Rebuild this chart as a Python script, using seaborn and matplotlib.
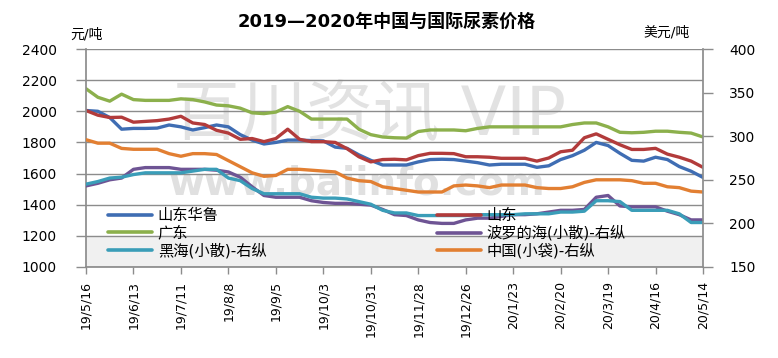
import pandas as pd
import numpy as np
import matplotlib
matplotlib.use('Agg')
import matplotlib.pyplot as plt
from matplotlib.lines import Line2D
import seaborn as sns

# weekly readings, 2019-05-16 .. 2020-05-14
dates = pd.date_range('2019-05-16', periods=53, freq='7D')

# left axis, yuan/ton
shandong_hualu = [2005, 2000, 1960, 1885, 1890, 1890, 1892, 1912, 1900, 1880,
                  1895, 1912, 1900, 1850, 1815, 1790, 1800, 1815, 1815, 1812,
                  1810, 1770, 1762, 1720, 1685, 1655, 1655, 1655, 1675, 1690,
                  1692, 1690, 1680, 1670, 1655, 1660, 1660, 1660, 1640, 1650,
                  1690, 1715, 1750, 1800, 1780, 1730, 1685, 1680, 1705, 1690,
                  1645, 1615, 1575]
shandong = [2005, 1975, 1960, 1962, 1930, 1935, 1940, 1950, 1968, 1925,
            1915, 1878, 1860, 1820, 1825, 1805, 1825, 1885, 1820, 1805,
            1805, 1800, 1760, 1708, 1675, 1690, 1692, 1688, 1715, 1730,
            1730, 1728, 1708, 1708, 1705, 1698, 1698, 1698, 1680, 1700,
            1740, 1750, 1830, 1855, 1820, 1785, 1755, 1755, 1762, 1725,
            1705, 1680, 1640]
guangdong = [2145, 2090, 2065, 2110, 2075, 2070, 2070, 2070, 2080, 2075,
             2060, 2040, 2035, 2020, 1990, 1985, 1995, 2030, 2000, 1950,
             1950, 1950, 1950, 1885, 1850, 1835, 1830, 1828, 1870, 1880,
             1880, 1880, 1875, 1890, 1900, 1900, 1900, 1900, 1900, 1900,
             1900, 1915, 1925, 1925, 1900, 1865, 1862, 1865, 1872, 1872,
             1865, 1860, 1835]

# right axis, USD/ton
baltic = [243, 246, 250, 252, 262, 264, 264, 264, 262, 262,
          262, 261, 259, 253, 242, 232, 230, 230, 230, 226,
          224, 223, 223, 222, 221, 216, 210, 209, 204, 201,
          200, 200, 204, 206, 206, 208, 210, 210, 211, 213,
          215, 215, 216, 230, 232, 220, 219, 219, 219, 214,
          210, 204, 204]
black_sea = [245, 248, 252, 253, 256, 258, 258, 258, 258, 260,
             262, 262, 252, 249, 240, 234, 234, 234, 234, 230,
             229, 229, 228, 225, 222, 215, 212, 212, 209, 209,
             209, 209, 209, 210, 210, 210, 210, 211, 211, 211,
             213, 213, 214, 226, 226, 225, 215, 215, 215, 215,
             211, 201, 201]
china_bag = [296, 292, 292, 286, 285, 285, 285, 280, 277, 280,
             280, 279, 272, 265, 258, 254, 255, 262, 262, 261,
             260, 259, 252, 249, 248, 242, 240, 238, 236, 236,
             236, 243, 244, 243, 241, 244, 244, 244, 241, 240,
             240, 242, 247, 250, 250, 250, 249, 246, 246, 242,
             241, 237, 236]

left_series = [('山东华鲁', shandong_hualu, '#3f6db3'),
               ('山东', shandong, '#b23b3b'),
               ('广东', guangdong, '#8cb04c')]
right_series = [('波罗的海(小散)-右纵', baltic, '#6e5494'),
                ('黑海(小散)-右纵', black_sea, '#3a9db8'),
                ('中国(小袋)-右纵', china_bag, '#e27f32')]

sns.set_theme(style='white')
plt.rcParams['font.family'] = ['DejaVu Sans', 'Noto Sans CJK SC']
plt.rcParams['text.color'] = 'black'

W, H = 778, 358
fig = plt.figure(figsize=(W / 100, H / 100), dpi=100)
ax = fig.add_axes([86 / W, (H - 267) / H, 617 / W, 218 / H])
ax2 = ax.twinx()

# watermark + lower shading
ax.axhspan(1000, 1200, color='#f0f0f0', zorder=0)
ax.text(0.46, 0.69, '百川资讯 VIP', transform=ax.transAxes, fontsize=48,
        color='#e2e2e2', ha='center', va='center', zorder=0.4)
ax.text(0.44, 0.385, 'www.baiinfo.com', transform=ax.transAxes, fontsize=28,
        fontweight='bold', color='#e0e0e0', ha='center', va='center', zorder=0.4)

handles = {}
for name, vals, c in left_series:
    sns.lineplot(x=dates, y=vals, ax=ax, color=c, linewidth=2.4, legend=False)
    handles[name] = Line2D([], [], color=c, linewidth=2.6)
for name, vals, c in right_series:
    sns.lineplot(x=dates, y=vals, ax=ax2, color=c, linewidth=2.4, legend=False)
    handles[name] = Line2D([], [], color=c, linewidth=2.6)

ax.set_xlim(dates[0], dates[-1])
ax.set_ylim(1000, 2400)
ax.set_yticks(range(1000, 2401, 200))
ax2.set_ylim(150, 400)
ax2.set_yticks(range(150, 401, 50))
ax.set_xlabel('')
ax.set_ylabel('')
ax2.set_ylabel('')

tick_dates = pd.date_range('2019-05-16', '2020-05-14', freq='28D')
ax.set_xticks(tick_dates)
ax.set_xticklabels([f'{d.year % 100}/{d.month}/{d.day}' for d in tick_dates],
                   rotation=90, fontsize=9)

ax.set_axisbelow(True)
ax.yaxis.grid(True, color='#8c8c8c', linewidth=1)
ax.xaxis.grid(False)

gray = '#8c8c8c'
for s in ['left', 'bottom']:
    ax.spines[s].set_color(gray)
ax.spines['top'].set_visible(False)
ax.spines['right'].set_visible(False)
for s in ['left', 'bottom', 'top']:
    ax2.spines[s].set_visible(False)
ax2.spines['right'].set_color(gray)

ax.tick_params(axis='y', left=True, direction='out', length=7, width=1,
               color=gray, pad=14, labelsize=10, labelcolor='black')
ax.tick_params(axis='x', bottom=True, direction='out', length=5, width=1,
               color=gray, pad=5, labelcolor='black')
ax2.tick_params(axis='y', right=True, direction='out', length=7, width=1,
                color=gray, pad=12, labelsize=10, labelcolor='black')

fig.text(387 / W, 1 - 22 / H, '2019—2020年中国与国际尿素价格', ha='center',
         va='center', fontsize=13, fontweight='bold')
fig.text(70 / W, 1 - 35 / H, '元/吨', va='center', fontsize=10)
fig.text(643 / W, 1 - 32 / H, '美元/吨', va='center', fontsize=10)

col1 = ['山东华鲁', '广东', '黑海(小散)-右纵']
col2 = ['山东', '波罗的海(小散)-右纵', '中国(小袋)-右纵']
leg_kw = dict(loc='upper left', bbox_transform=fig.transFigure, frameon=False,
              borderpad=0, borderaxespad=0, handlelength=2.9, handletextpad=0.35,
              labelspacing=0.15, fontsize=11)
leg1 = ax2.legend([handles[n] for n in col1], col1,
                  bbox_to_anchor=(108 / W, 1 - 208 / H), **leg_kw)
ax2.add_artist(leg1)
ax2.legend([handles[n] for n in col2], col2,
           bbox_to_anchor=(437 / W, 1 - 208 / H), **leg_kw)

fig.savefig('out.png', dpi=100)
